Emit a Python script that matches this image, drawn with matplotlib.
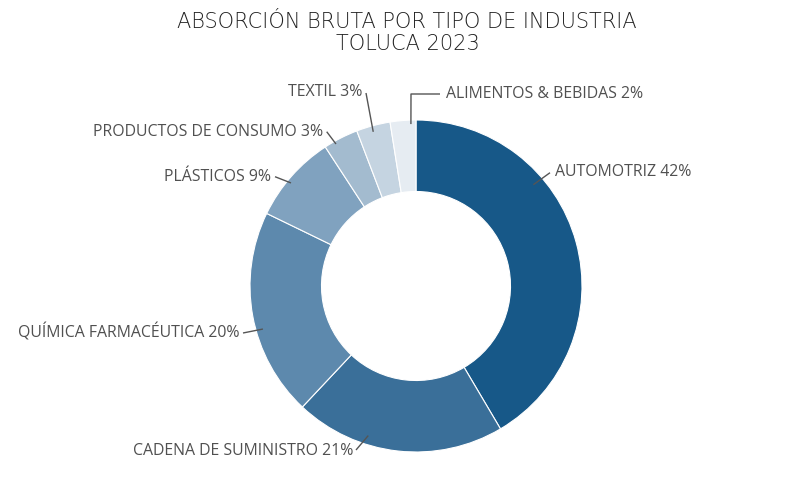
import numpy as np
import matplotlib
matplotlib.use("Agg")
import matplotlib.pyplot as plt

# ---- data ----
categories = ["AUTOMOTRIZ", "CADENA DE SUMINISTRO", "QUÍMICA FARMACÉUTICA",
              "PLÁSTICOS", "PRODUCTOS DE CONSUMO", "TEXTIL", "ALIMENTOS & BEBIDAS"]
values = [41.5, 20.5, 20.2, 8.6, 3.4, 3.3, 2.5]
pct_labels = [42, 21, 20, 9, 3, 3, 2]
colors = ["#175888", "#3a6f99", "#5d89ad", "#80a2bf", "#a3bbcf", "#c5d4e1", "#e6ecf2"]

W, H = 803, 496
fig = plt.figure(figsize=(W / 100, H / 100), dpi=100)
ax = fig.add_axes([0, 0, 1, 1])
ax.set_xlim(0, W)
ax.set_ylim(0, H)
ax.set_aspect("equal")
ax.axis("off")

cx, cy = 416, H - 286
R = 166
ring = 71.5 / R

wedges, _ = ax.pie(values, colors=colors, startangle=90, counterclock=False,
                   center=(cx, cy), radius=R, frame=True,
                   wedgeprops=dict(width=R * ring, edgecolor="white", linewidth=0.8))
ax.set_xlim(0, W)
ax.set_ylim(0, H)
ax.axis("off")

# label layout: anchor angle (deg) on ring, anchor radius, text position (px from top-left), alignment
anchor_deg = [40.8, 252.3, 195.7, 140.5, 119.4, 105.5, 91.8]
anchor_r = [155, 157, 159, 162, 163, 160, 162]
line_end = [(550, 172.7), (356, 450), (243, 333), (275, 176.7), (326.7, 131.7), (366, 93), (411, 94)]
text_pos = [(555, 172), (353, 451), (240, 333), (271, 177), (323, 132), (362, 92), (446, 94)]
align = ["left", "right", "right", "right", "right", "right", "left"]

lc = "#555555"
for i, name in enumerate(categories):
    a = np.deg2rad(anchor_deg[i])
    x0 = cx + anchor_r[i] * np.cos(a)
    y0 = cy + anchor_r[i] * np.sin(a)
    ex, ey = line_end[i][0], H - line_end[i][1]
    if i == 6:
        ax.plot([x0, ex, 440], [y0, ey, ey], color=lc, lw=1.0, solid_capstyle="butt")
    else:
        ax.plot([x0, ex], [y0, ey], color=lc, lw=1.0, solid_capstyle="butt")
    tx, ty = text_pos[i]
    ax.text(tx, H - ty, f"{name} {pct_labels[i]}%", ha=align[i], va="center",
            fontsize=11.4, color="#505050", family=["Open Sans", "DejaVu Sans"])

fig.text(407 / W, 1 - 22 / H, "ABSORCIÓN BRUTA POR TIPO DE INDUSTRIA", ha="center", va="center",
         fontsize=15, color="#222222", family=["DejaVu Sans"], fontweight="light")
fig.text(408 / W, 1 - 44 / H, "TOLUCA 2023", ha="center", va="center",
         fontsize=15, color="#222222", family=["DejaVu Sans"], fontweight="light")

fig.savefig("out.png", dpi=100, facecolor="white")
